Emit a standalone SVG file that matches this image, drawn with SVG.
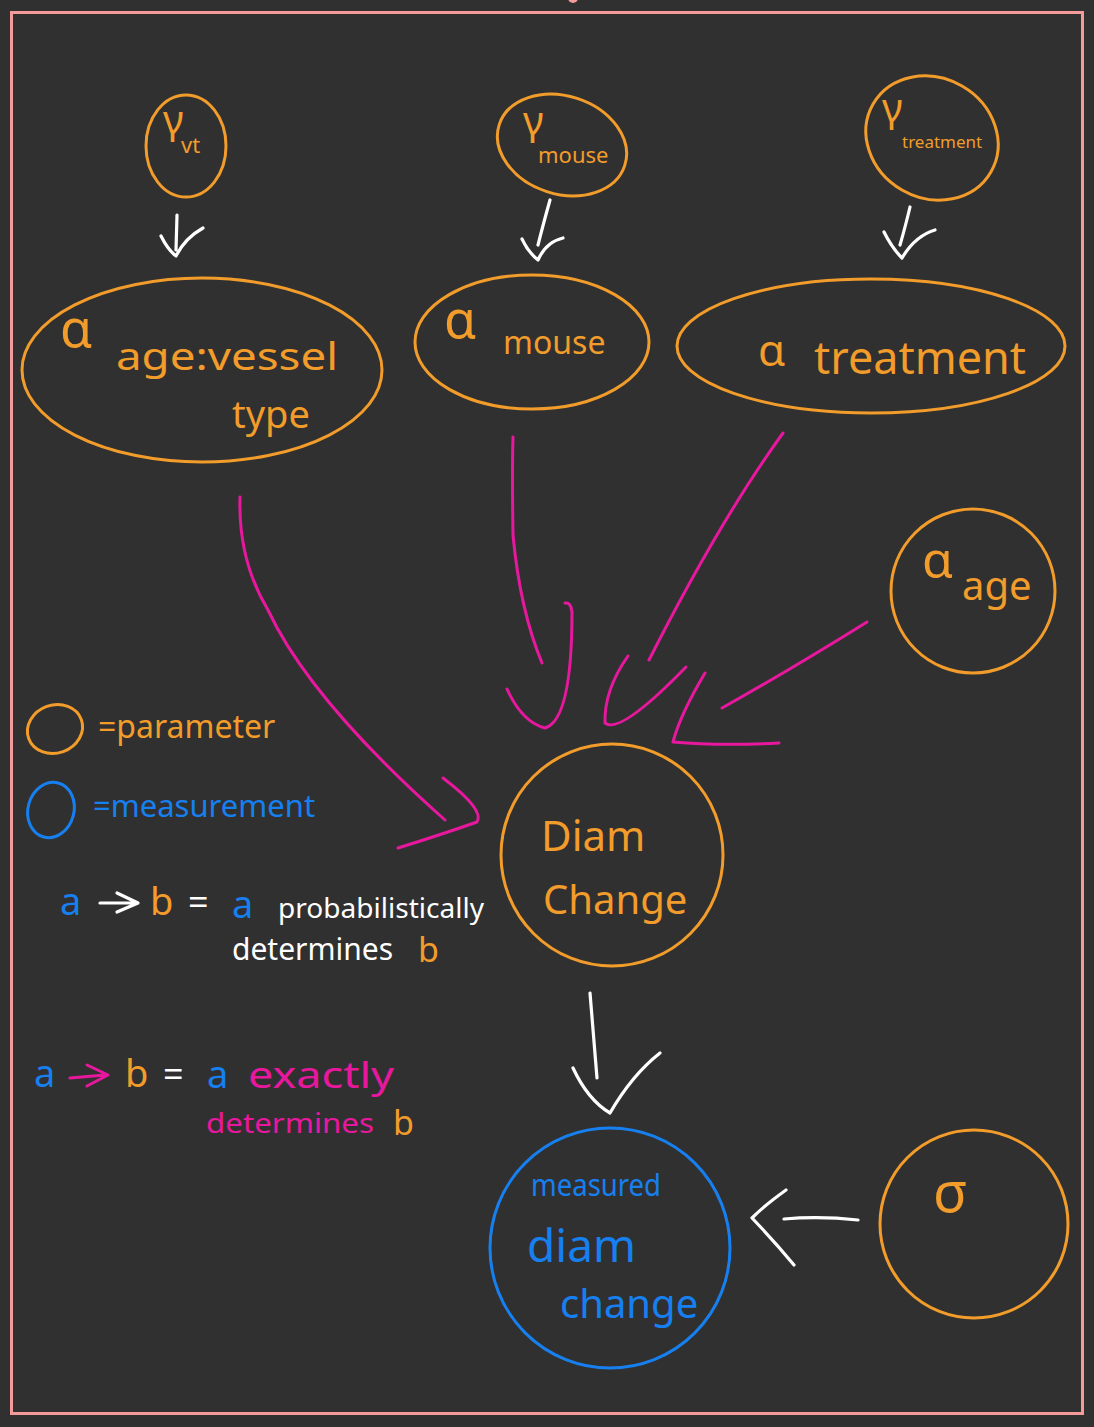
<svg xmlns="http://www.w3.org/2000/svg" width="1094" height="1427" viewBox="0 0 1094 1427">
<defs>
<style>
.or{fill:none;stroke:#f29c2b;stroke-width:3}
.bl{fill:none;stroke:#1780f0;stroke-width:3}
.pk{fill:none;stroke:#e8189e;stroke-width:3;stroke-linecap:round;stroke-linejoin:round}
.wh{fill:none;stroke:#ffffff;stroke-width:3.2;stroke-linecap:round;stroke-linejoin:round}
text{font-family:"Noto Sans","DejaVu Sans",sans-serif}
.to{fill:#f29c2b}
.tb{fill:#1780f0}
.tp{fill:#e8189e}
.tw{fill:#ffffff}
</style>
</defs>
<rect x="0" y="0" width="1094" height="1427" fill="#303030"/>
<rect x="11.5" y="12.5" width="1071" height="1401" fill="none" stroke="#f49a9a" stroke-width="3"/>
<circle cx="573" cy="-2" r="5" fill="#f49a9a"/>

<g id="gamma_vt">
<ellipse class="or" cx="186" cy="146" rx="40" ry="51"/>
<text class="to" x="163" y="134" font-size="40">γ</text>
<text class="to" x="181" y="153" font-size="22">vt</text>
</g>
<g id="gamma_mouse">
<ellipse class="or" cx="562" cy="145" rx="66" ry="49" transform="rotate(18 562 145)"/>
<text class="to" x="523" y="135" font-size="40">γ</text>
<text class="to" x="538" y="163" font-size="22">mouse</text>
</g>
<g id="gamma_treatment">
<ellipse class="or" cx="932" cy="138" rx="68" ry="60" transform="rotate(30 932 138)"/>
<text class="to" x="882" y="122" font-size="40">γ</text>
<text class="to" x="902" y="148" font-size="17">treatment</text>
</g>

<g id="alpha_age_vessel">
<ellipse class="or" cx="202" cy="370" rx="180" ry="92"/>
<text class="to" x="60" y="347" font-size="52">α</text>
<text class="to" x="116" y="370" font-size="38" textLength="222" lengthAdjust="spacingAndGlyphs">age:vessel</text>
<text class="to" x="232" y="428" font-size="38">type</text>
</g>
<g id="alpha_mouse">
<ellipse class="or" cx="532" cy="342" rx="117" ry="67"/>
<text class="to" x="444" y="338" font-size="52">α</text>
<text class="to" x="503" y="354" font-size="32">mouse</text>
</g>
<g id="alpha_treatment">
<ellipse class="or" cx="871" cy="346" rx="194" ry="67"/>
<text class="to" x="758" y="366" font-size="44">α</text>
<text class="to" x="814" y="374" font-size="46" textLength="212" lengthAdjust="spacingAndGlyphs">treatment</text>
</g>
<g id="alpha_age">
<circle class="or" cx="973" cy="591" r="82"/>
<text class="to" x="922" y="578" font-size="50">α</text>
<text class="to" x="962" y="600" font-size="40">age</text>
</g>
<g id="diam_change">
<circle class="or" cx="612" cy="855" r="111"/>
<text class="to" x="541" y="851" font-size="42">Diam</text>
<text class="to" x="543" y="914" font-size="40">Change</text>
</g>
<g id="measured_diam_change">
<circle class="bl" cx="610" cy="1248" r="120"/>
<text class="tb" x="531" y="1196" font-size="30" textLength="130" lengthAdjust="spacingAndGlyphs">measured</text>
<text class="tb" x="527" y="1262" font-size="46">diam</text>
<text class="tb" x="560" y="1318" font-size="40">change</text>
</g>
<g id="sigma">
<ellipse class="or" cx="974" cy="1224" rx="94" ry="94"/>
<text class="to" x="933" y="1212" font-size="56">σ</text>
</g>

<g id="connectors">
<path class="wh" d="M177 215 L176 250 M161 236 Q168 250 176 256 Q185 238 203 228"/>
<path class="wh" d="M550 200 Q543 225 538 245 M522 239 Q528 252 538 260 Q546 242 563 238"/>
<path class="wh" d="M910 207 Q905 228 900 245 M884 232 Q892 248 902 258 Q915 236 935 230"/>
<path class="wh" d="M590 993 Q594 1040 597 1078 M573 1068 Q588 1100 610 1113 Q632 1075 660 1053"/>
<path class="wh" d="M858 1220 Q820 1216 784 1219 M786 1190 Q765 1205 752 1218 Q775 1242 794 1265"/>
<path class="pk" d="M240 497 Q238 560 268 610 Q310 700 445 820"/>
<path class="pk" d="M443 778 Q485 810 477 822 Q440 835 398 848"/>
<path class="pk" d="M513 437 Q512 470 513 535 Q520 610 542 663"/>
<path class="pk" d="M507 689 Q522 722 545 728 Q572 720 572 612 Q571 602 565 603"/>
<path class="pk" d="M783 433 Q720 520 649 660"/>
<path class="pk" d="M628 656 Q604 690 605 723 Q620 735 686 667"/>
<path class="pk" d="M867 622 Q790 670 722 708"/>
<path class="pk" d="M705 673 Q680 715 673 742 Q720 746 779 743"/>
</g>

<g id="legend">
<ellipse class="or" cx="55" cy="729" rx="28" ry="24" transform="rotate(-20 55 729)"/>
<text class="to" x="98" y="738" font-size="32">=parameter</text>
<ellipse class="bl" cx="51" cy="810" rx="23" ry="28" transform="rotate(15 51 810)"/>
<text class="tb" x="93" y="817" font-size="31">=measurement</text>

<text class="tb" x="60" y="915" font-size="38">a</text>
<path class="wh" d="M100 903 L135 903 M117 893 L138 903 L117 912"/>
<text class="to" x="150" y="915" font-size="38">b</text>
<text class="tw" x="188" y="915" font-size="36">=</text>
<text class="tb" x="232" y="918" font-size="38">a</text>
<text class="tw" x="278" y="918" font-size="28" textLength="206" lengthAdjust="spacingAndGlyphs">probabilistically</text>
<text class="tw" x="232" y="960" font-size="30">determines</text>
<text class="to" x="418" y="962" font-size="34">b</text>

<text class="tb" x="34" y="1087" font-size="38">a</text>
<path class="pk" d="M70 1078 L105 1075 M87 1065 L108 1075 L87 1086"/>
<text class="to" x="125" y="1087" font-size="38">b</text>
<text class="tw" x="163" y="1087" font-size="36">=</text>
<text class="tb" x="207" y="1088" font-size="38">a</text>
<text class="tp" x="248" y="1088" font-size="36" textLength="146" lengthAdjust="spacingAndGlyphs">exactly</text>
<text class="tp" x="206" y="1133" font-size="28" textLength="168" lengthAdjust="spacingAndGlyphs">determines</text>
<text class="to" x="393" y="1135" font-size="34">b</text>
</g>
</svg>
